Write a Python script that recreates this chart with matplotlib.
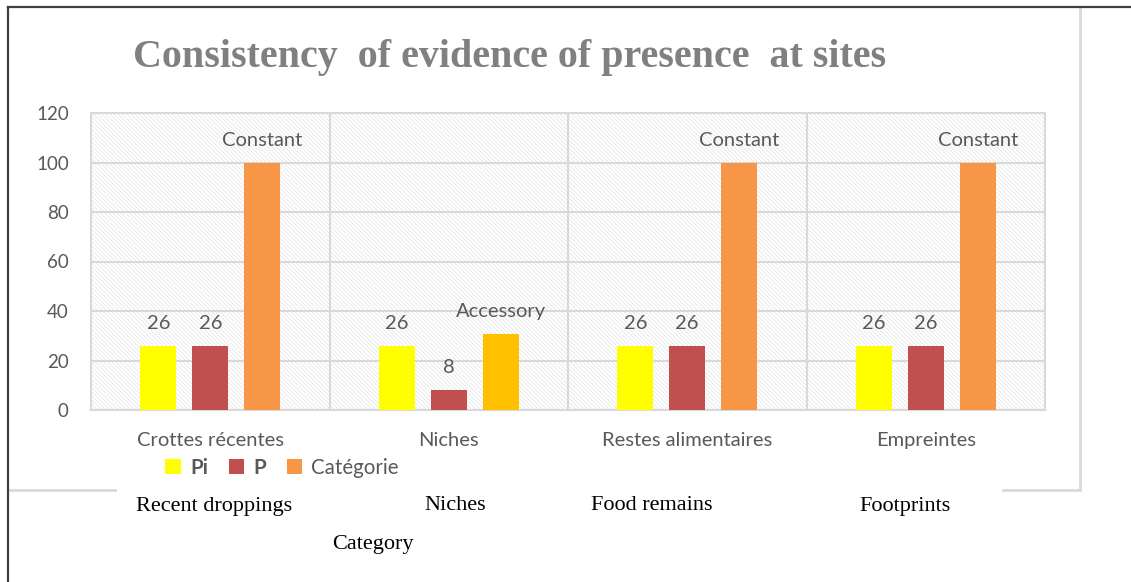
import matplotlib
matplotlib.use("Agg")
import matplotlib.pyplot as plt
from matplotlib.patches import Rectangle
from matplotlib.lines import Line2D
import numpy as np

# data
categories = ["Crottes récentes", "Niches", "Restes alimentaires", "Empreintes"]
english = ["Recent droppings", "Niches", "Food remains", "Footprints"]
pi_vals = [26, 26, 26, 26]
p_vals = [26, 8, 26, 26]
cat_vals = [100, 30.77, 100, 100]
cat_labels = ["Constant", "Accessory", "Constant", "Constant"]

W, H = 1131, 582
fig = plt.figure(figsize=(W / 100, H / 100), dpi=100)
fig.patch.set_facecolor("white")

def px(x, y):
    return x / W, 1 - y / H

ax = fig.add_axes([91 / W, (H - 410) / H, 954 / W, 297 / H])

grid_c = "#d9d9d9"
plt.rcParams["hatch.linewidth"] = 0.5
bg = Rectangle((0, 0), 1, 1, transform=ax.transAxes, facecolor="white",
               edgecolor="#e2e2e2", lw=0, hatch="\\" * 8, zorder=0)
ax.add_patch(bg)
ax.patch.set_visible(False)

x = np.arange(len(categories))
off, bw = 0.218, 0.151
ax.bar(x - off, pi_vals, bw, color="#ffff00", zorder=3, label="Pi")
ax.bar(x, p_vals, bw, color="#c0504d", zorder=3, label="P")
bars = ax.bar(x + off, cat_vals, bw, color="#f79646", zorder=3, label="Catégorie")
bars[1].set_facecolor("#ffc000")

lab_font = dict(family="Lato", fontsize=14.5, color="#595959")
for i in range(len(categories)):
    ax.annotate(str(pi_vals[i]), (x[i] - off, pi_vals[i]), xytext=(0, 10),
                textcoords="offset points", ha="center", va="bottom", **lab_font)
    ax.annotate(str(p_vals[i]), (x[i], p_vals[i]), xytext=(0, 10),
                textcoords="offset points", ha="center", va="bottom", **lab_font)
    ax.annotate(cat_labels[i], (x[i] + off, cat_vals[i]), xytext=(0, 10),
                textcoords="offset points", ha="center", va="bottom", **lab_font)

ax.set_xlim(-0.5, 3.5)
ax.set_ylim(0, 120)
ax.set_yticks(range(0, 121, 20))
ax.set_xticks(x)
ax.set_xticklabels(categories, **lab_font)
ax.set_xticks([0.5, 1.5, 2.5], minor=True)
for t in ax.get_yticklabels():
    t.set(family="Lato", fontsize=13.5, color="#595959")
ax.tick_params(axis="y", length=0, pad=16)
ax.tick_params(axis="x", which="both", length=0, pad=15.5)
ax.yaxis.grid(True, color=grid_c, lw=1.5, zorder=1)
ax.xaxis.grid(True, which="minor", color=grid_c, lw=1.5, zorder=1)
ax.set_axisbelow(True)
for s in ax.spines.values():
    s.set_color(grid_c)
    s.set_linewidth(1.5)

leg = ax.legend(loc="center", bbox_to_anchor=px(282, 468), bbox_transform=fig.transFigure,
                ncol=3, frameon=False, handlelength=0.75, handleheight=0.75,
                handletextpad=0.45, columnspacing=1.0, prop=dict(family="Lato", size=14.8))
for i, t in enumerate(leg.get_texts()):
    t.set_color("#595959")
    if i < 2:
        t.set_fontweight("bold")

# title
fig.text(*px(510, 58), "Consistency  of evidence of presence  at sites", ha="center", va="center",
         family="Liberation Serif", fontweight="bold", fontsize=28.8, color="#808080")

# Excel chart border (light) and outer dark frame
lc = "#d9d9d9"
for xs, ys in [([1080, 1080], [8, 490]), ([10, 115], [490, 490]), ([1003, 1080], [490, 490])]:
    fig.add_artist(Line2D([v / W for v in xs], [1 - v / H for v in ys], color=lc, lw=2))
fig.add_artist(Line2D([8 / W, 1], [1 - 7 / H, 1 - 7 / H], color="#404040", lw=1.6))
fig.add_artist(Line2D([8 / W, 8 / W], [1 - 7 / H, 0], color="#404040", lw=1.6))

# English labels added below the chart
eng_x = [214, 455, 652, 905]
for xi, t in zip(eng_x, english):
    fig.text(*px(xi, 506), t, ha="center", va="center", family="Liberation Serif",
             fontsize=16, color="black")
fig.text(*px(373, 544), "Category", ha="center", va="center", family="Liberation Serif",
         fontsize=16, color="black")

fig.savefig("out.png", dpi=100, facecolor="white")
